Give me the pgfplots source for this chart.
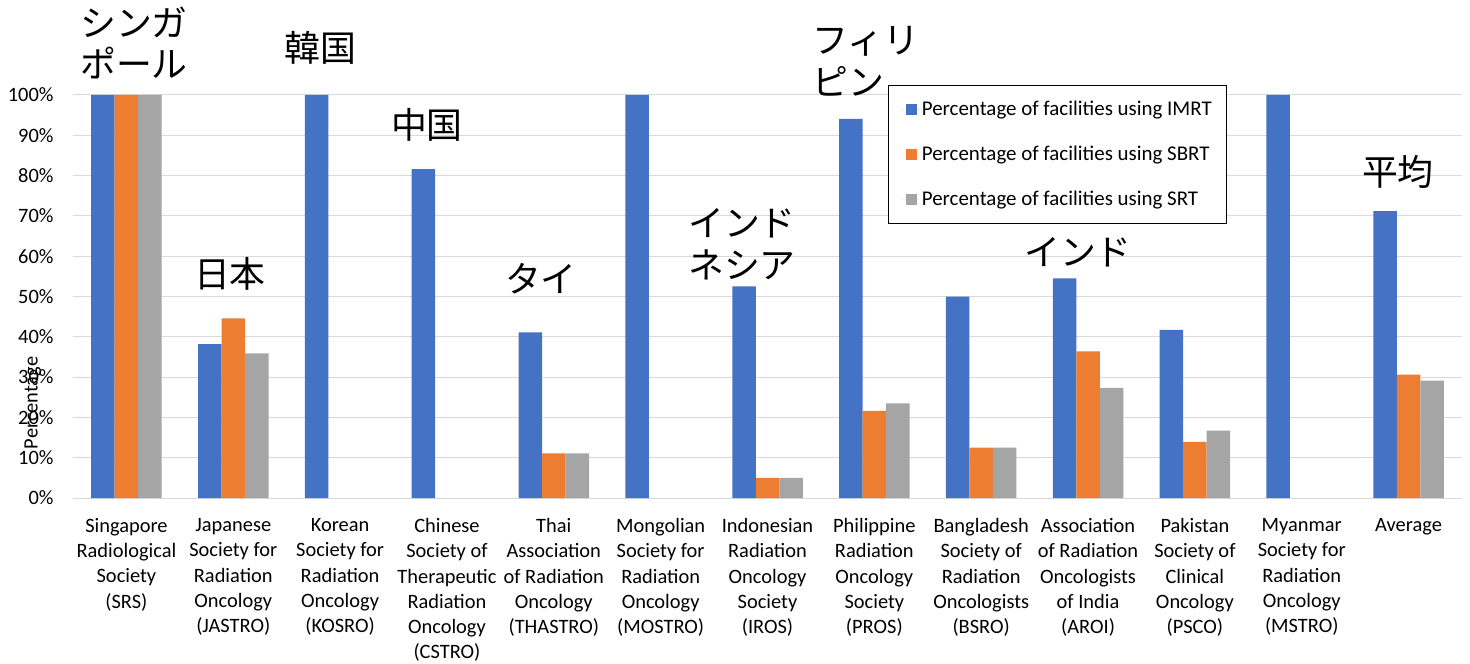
\documentclass[border=0pt]{standalone}
\usepackage{pgfplots}
\pgfplotsset{compat=1.18}
\usepackage{fontspec}
\setmainfont{Carlito}
\newfontfamily\jp{Noto Sans CJK JP}
\definecolor{cBlue}{HTML}{4472C4}
\definecolor{cOrange}{HTML}{ED7D31}
\definecolor{cGrey}{HTML}{A5A5A5}
\definecolor{cGrid}{HTML}{D9D9D9}
\pgfplotsset{sqlegend/.style={legend image code/.code={\path (0bp,0bp) -- (18bp,0bp);\fill[##1,draw=none] (4bp,-5.5bp) rectangle (15bp,5.5bp);}}}
\newcommand{\lbl}{\fontsize{20.5}{25.3}\selectfont}
\newcommand{\jpf}{\jp\fontsize{36}{42}\selectfont}
\begin{document}
\begin{tikzpicture}
\begin{axis}[
  name=ax,
  scale only axis, width=1389bp, height=403bp,
  ybar=0pt, bar width=23.5bp,
  xmin=-0.5, xmax=12.5, ymin=0, ymax=100,
  axis line style={draw=none},
  axis x line*=bottom,
  ymajorgrids, grid style={cGrid, line width=1bp},
  major tick length=0pt,
  ytick={0,10,...,100},
  /pgf/number format/assume math mode=true,
  yticklabel={\pgfmathprintnumber{\tick}\%},
  yticklabel style={font=\lbl, xshift=-16bp},
  xtick={0,...,12},
  xticklabels={{Singapore\\Radiological\\Society\\(SRS)},
    {Japanese\\Society for\\Radiation\\Oncology\\(JASTRO)},
    {Korean\\Society for\\Radiation\\Oncology\\(KOSRO)},
    {Chinese\\Society of\\Therapeutic\\Radiation\\Oncology\\(CSTRO)},
    {Thai\\Association\\of Radiation\\Oncology\\(THASTRO)},
    {Mongolian\\Society for\\Radiation\\Oncology\\(MOSTRO)},
    {Indonesian\\Radiation\\Oncology\\Society\\(IROS)},
    {Philippine\\Radiation\\Oncology\\Society\\(PROS)},
    {Bangladesh\\Society of\\Radiation\\Oncologists\\(BSRO)},
    {Association\\of Radiation\\Oncologists\\of India\\(AROI)},
    {Pakistan\\Society of\\Clinical\\Oncology\\(PSCO)},
    {Myanmar\\Society for\\Radiation\\Oncology\\(MSTRO)},
    {Average}},
  xticklabel style={font=\lbl, align=center, anchor=north, yshift=-17bp},
  ylabel={Percentage},
  ylabel style={font=\lbl, at={(axis description cs:-0.029,0.236)}, anchor=center},
  legend style={at={(axis description cs:0.587,1.025)}, anchor=north west,
    draw=black, line width=1bp, font=\fontsize{21}{25.3}\selectfont, row sep=25bp,
    inner xsep=13bp, inner ysep=14bp,
    nodes={inner sep=2bp}},
  legend cell align=left,
  clip=false,
]
\addplot[fill=cBlue, draw=none, sqlegend] coordinates {
 (0,100) (1,38.2) (2,100) (3,81.6) (4,41.1) (5,100) (6,52.5) (7,94.1) (8,50) (9,54.5) (10,41.7) (11,100) (12,71.2)};
\addplot[fill=cOrange, draw=none, sqlegend] coordinates {
 (0,100) (1,44.6) (4,11.1) (6,5) (7,21.6) (8,12.5) (9,36.4) (10,13.9) (12,30.6)};
\addplot[fill=cGrey, draw=none, sqlegend] coordinates {
 (0,100) (1,35.9) (4,11.1) (6,5) (7,23.5) (8,12.5) (9,27.3) (10,16.7) (12,29.1)};
\legend{Percentage of facilities using IMRT, Percentage of facilities using SBRT, Percentage of facilities using SRT}
\node[font=\jpf, align=left, anchor=west, inner sep=0pt] at (axis cs:-0.434,112.9) {シンガ\\ポール};
\node[font=\jpf, inner sep=0pt] at (axis cs:0.969,55.6) {日本};
\node[font=\jpf, inner sep=0pt] at (axis cs:1.812,111.7) {韓国};
\node[font=\jpf, inner sep=0pt] at (axis cs:2.813,92.6) {中国};
\node[font=\jpf, inner sep=0pt] at (axis cs:3.880,54.3) {タイ};
\node[font=\jpf, align=left, inner sep=0pt] at (axis cs:5.761,63.0) {インド\\ネシア};
\node[font=\jpf, align=left, anchor=west, inner sep=0pt] at (axis cs:6.416,108.4) {フィリ\\ピン};
\node[font=\jpf, inner sep=0pt] at (axis cs:8.906,61.0) {インド};
\node[font=\jpf, inner sep=0pt] at (axis cs:11.90,80.9) {平均};
\end{axis}
\pgfresetboundingbox
\path[use as bounding box] ([xshift=-73bp,yshift=-165bp]ax.south west) rectangle ([xshift=8bp,yshift=95bp]ax.north east);
\end{tikzpicture}
\end{document}
